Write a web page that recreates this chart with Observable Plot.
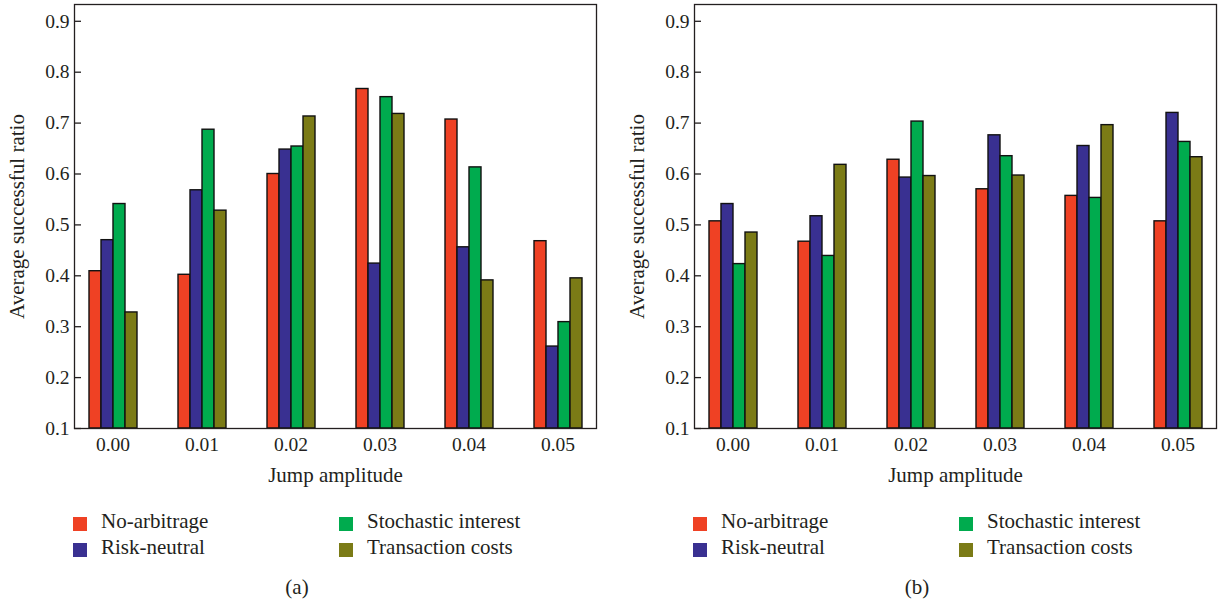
<!DOCTYPE html>
<html>
<head>
<meta charset="utf-8">
<script src="https://cdn.jsdelivr.net/npm/d3@7"></script>
<script src="https://cdn.jsdelivr.net/npm/@observablehq/plot@0.6"></script>
<style>
  html, body { margin: 0; padding: 0; background: #fff; }
  body { width: 1221px; height: 608px; position: relative; overflow: hidden;
         font-family: "Liberation Serif", "Times New Roman", serif; color: #231f20; }
  .panel { position: absolute; top: 0; width: 610px; height: 608px; }
  .panel svg { position: absolute; left: 0; top: 0; }
  .sw { position: absolute; width: 14px; height: 14px; }
  .lt { position: absolute; font-size: 21px; line-height: 20px; white-space: nowrap; }
  .cap { position: absolute; font-size: 21px; line-height: 20px; width: 610px; left: -8px; text-align: center; }
</style>
</head>
<body>
<div id="pa" class="panel" style="left:0px"></div>
<div id="pb" class="panel" style="left:620px"></div>
<script>
// ---- data ----
const groups = ["0.00", "0.01", "0.02", "0.03", "0.04", "0.05"];
const series = ["No-arbitrage", "Risk-neutral", "Stochastic interest", "Transaction costs"];
const colors = ["#ef4124", "#393091", "#00ab4e", "#7b7b16"];
const yTicks = [0.1, 0.2, 0.3, 0.4, 0.5, 0.6, 0.7, 0.8, 0.9];
const yMin = 0.1, yMax = 0.933;

// panel (a)
const aNoArbitrage   = [0.409, 0.402, 0.600, 0.767, 0.707, 0.468];
const aRiskNeutral   = [0.470, 0.568, 0.648, 0.424, 0.456, 0.261];
const aStochastic    = [0.541, 0.687, 0.654, 0.751, 0.613, 0.309];
const aTransaction   = [0.328, 0.528, 0.713, 0.718, 0.391, 0.395];
// panel (b)
const bNoArbitrage   = [0.507, 0.467, 0.628, 0.570, 0.557, 0.507];
const bRiskNeutral   = [0.541, 0.517, 0.593, 0.676, 0.655, 0.720];
const bStochastic    = [0.423, 0.439, 0.703, 0.635, 0.553, 0.663];
const bTransaction   = [0.485, 0.618, 0.596, 0.597, 0.696, 0.633];

function table(arrs) {
  const rows = [];
  groups.forEach((g, i) => series.forEach((s, j) => rows.push({group: g, series: s, value: arrs[j][i]})));
  return rows;
}

function chart(rows) {
  return Plot.plot({
    width: 600, height: 490,
    marginLeft: 73, marginRight: 2, marginTop: 4, marginBottom: 62,
    style: {fontFamily: "Liberation Serif, Times New Roman, serif", fontSize: "19px", color: "#231f20", background: "white", overflow: "visible"},
    fx: {domain: groups, paddingInner: 0.132, paddingOuter: 0},
    x: {domain: series, paddingInner: 0, paddingOuter: 1.05, axis: null},
    y: {domain: [yMin, yMax]},
    color: {domain: series, range: colors},
    marks: [
      Plot.barY(rows, {fx: "group", x: "series", y1: yMin, y2: "value", fill: "series",
                       stroke: "#111", strokeWidth: 1.4, inset: 0}),
      Plot.frame({facet: "super", stroke: "#231f20", strokeWidth: 1.3}),
      Plot.axisY({anchor: "left", ticks: yTicks, tickSize: -7, tickPadding: 12,
                  tickFormat: d3.format(".1f"), stroke: "#231f20", strokeWidth: 1.3,
                  label: null, fontSize: 19.5}),
      Plot.axisY({anchor: "left", ticks: [], label: "Average successful ratio", labelArrow: false,
                  labelAnchor: "center", labelOffset: 65, fontSize: 21}),
      Plot.axisFx({anchor: "bottom", tickSize: 0, tickPadding: 9, fontSize: 19.5, label: null}),
      Plot.axisFx({anchor: "bottom", ticks: [], label: "Jump amplitude", labelArrow: false,
                   labelAnchor: "center", labelOffset: 53, fontSize: 21})
    ]
  });
}

function legend(el) {
  const pos = [[73, 516.5], [73, 542.5], [339, 516.5], [339, 542.5]];
  series.forEach((s, i) => {
    const sw = document.createElement("div");
    sw.className = "sw";
    sw.style.left = pos[i][0] + "px"; sw.style.top = pos[i][1] + "px";
    sw.style.background = colors[i];
    el.appendChild(sw);
    const t = document.createElement("div");
    t.className = "lt";
    t.textContent = s;
    t.style.left = (pos[i][0] + 28) + "px"; t.style.top = (pos[i][1] - 6) + "px";
    el.appendChild(t);
  });
}

function panel(id, arrs, caption) {
  const el = document.getElementById(id);
  el.appendChild(chart(table(arrs)));
  legend(el);
  const c = document.createElement("div");
  c.className = "cap";
  c.style.top = "577px";
  c.textContent = caption;
  el.appendChild(c);
}

panel("pa", [aNoArbitrage, aRiskNeutral, aStochastic, aTransaction], "(a)");
panel("pb", [bNoArbitrage, bRiskNeutral, bStochastic, bTransaction], "(b)");
</script>
</body>
</html>
